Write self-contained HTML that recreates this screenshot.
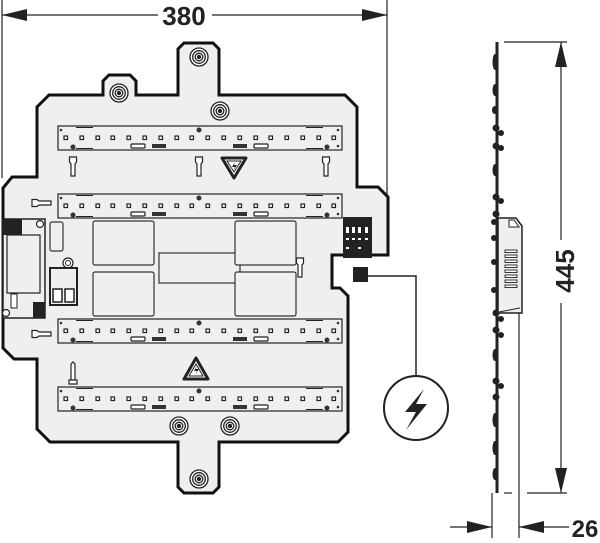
<!DOCTYPE html>
<html><head><meta charset="utf-8"><style>
html,body{margin:0;padding:0;background:#fff;}
svg{display:block;}
text{font-family:"Liberation Sans",sans-serif;font-weight:bold;}
</style></head><body>
<svg width="600" height="543" viewBox="0 0 600 543" xmlns="http://www.w3.org/2000/svg">
<defs>
<g id="strip">
  <rect x="58" y="0" width="284" height="24" fill="#efefef" stroke="#222" stroke-width="1.2"/>
  <g fill="#fff" stroke="#222" stroke-width="1.2">
    <rect x="64" y="10" width="3.5" height="3.5"/><rect x="80" y="10" width="3.5" height="3.5"/><rect x="96" y="10" width="3.5" height="3.5"/><rect x="111" y="10" width="3.5" height="3.5"/><rect x="127" y="10" width="3.5" height="3.5"/><rect x="143" y="10" width="3.5" height="3.5"/><rect x="159" y="10" width="3.5" height="3.5"/><rect x="175" y="10" width="3.5" height="3.5"/><rect x="190" y="10" width="3.5" height="3.5"/><rect x="206" y="10" width="3.5" height="3.5"/><rect x="222" y="10" width="3.5" height="3.5"/><rect x="238" y="10" width="3.5" height="3.5"/><rect x="254" y="10" width="3.5" height="3.5"/><rect x="269" y="10" width="3.5" height="3.5"/><rect x="285" y="10" width="3.5" height="3.5"/><rect x="301" y="10" width="3.5" height="3.5"/><rect x="317" y="10" width="3.5" height="3.5"/><rect x="332" y="10" width="3.5" height="3.5"/>
    <rect x="131" y="18" width="14" height="4" rx="1"/><rect x="254" y="18" width="14" height="4" rx="1"/>
  </g>
  <rect x="152" y="18" width="14" height="4" fill="#333"/><rect x="233" y="18" width="14" height="4" fill="#333"/>
  <g fill="#333"><circle cx="61" cy="4" r="1.3"/><circle cx="338" cy="4" r="1.3"/><circle cx="338" cy="20" r="1.3"/><circle cx="199" cy="4" r="2.5"/><circle cx="73" cy="21" r="2.5"/><circle cx="327" cy="21" r="2.5"/></g>
  <g stroke="#222" stroke-width="1" fill="none"><line x1="76" y1="1.5" x2="93" y2="1.5"/><line x1="306" y1="1.5" x2="323" y2="1.5"/><line x1="76" y1="22.5" x2="93" y2="22.5"/><line x1="306" y1="22.5" x2="323" y2="22.5"/></g>
</g>
<g id="screw"><circle r="9" fill="#fff" stroke="#222" stroke-width="1.3"/><circle r="6.3" fill="none" stroke="#222" stroke-width="1.3"/><circle r="3.8" fill="none" stroke="#222" stroke-width="1.3"/><circle r="2.2" fill="#222"/></g>
<g id="pinv"><path d="M-3.5,0 h7 v5 l-1.5,2 v12 h-4 v-12 l-1.5,-2 z" fill="#fff" stroke="#222" stroke-width="1.2"/></g>
<g id="pinh"><path d="M0,-3.5 v7 h5 l2,-1.5 h12 v-4 h-12 l-2,-1.5 z" fill="#fff" stroke="#222" stroke-width="1.2"/></g>
</defs>

<!-- 380 dimension -->
<g stroke="#222" stroke-width="1.2" fill="none">
<line x1="2" y1="0" x2="2" y2="178"/><line x1="387" y1="0" x2="387" y2="200"/>
<line x1="2" y1="15" x2="158" y2="15"/><line x1="212" y1="15" x2="387" y2="15"/>
</g>
<path d="M2,15 l25,-6 v12 z M387,15 l-25,-6 v12 z" fill="#222"/>
<text x="184" y="25" font-size="26" text-anchor="middle" fill="#222">380</text>

<!-- plate outline -->
<path d="M184,43 L213,43 L219,49 L219,95 L345,95 L357,107 L357,187 L378,187 L388,197 L388,255 L332,255 L332,288 L340,288 L348,296 L348,432 L338,442 L219,442 L219,487 L213,493 L184,493 L178,487 L178,442 L50,442 L37,429 L37,359 L14,359 L3,348 L3,188 L12,177 L37,177 L37,107 L49,95 L103,95 L103,81 L109,75 L130,75 L136,81 L136,95 L178,95 L178,49 Z" fill="#efefef" stroke="#111" stroke-width="3" stroke-linejoin="miter"/>

<!-- strips -->
<use href="#strip" y="126"/>
<use href="#strip" y="194"/>
<use href="#strip" y="319"/>
<use href="#strip" y="387"/>

<!-- screws -->
<use href="#screw" x="199" y="57"/>
<use href="#screw" x="119" y="93"/>
<use href="#screw" x="220" y="111"/>
<use href="#screw" x="179" y="426"/>
<use href="#screw" x="230" y="426"/>
<use href="#screw" x="199" y="479"/>

<!-- pins -->
<use href="#pinv" x="73" y="157"/>
<use href="#pinv" x="199" y="157"/>
<use href="#pinv" x="326" y="157"/>
<use href="#pinv" x="300" y="258"/>
<use href="#pinh" x="32" y="203"/>
<use href="#pinh" x="32" y="334"/>
<path d="M71,380 v-16 l2,-2 l2,2 v16 z M69,380 h8 v4 h-8 z" fill="#fff" stroke="#222" stroke-width="1.2"/>

<!-- warning signs -->
<path d="M222,158 h24 l-12,20 z" fill="#fff" stroke="#222" stroke-width="3" stroke-linejoin="round"/>
<path d="M227,161 h14 l-7,11 z" fill="none" stroke="#222" stroke-width="1"/>
<path d="M235,162 l-3,5 h3 l-2,4 l4,-6 h-3 z" fill="#222"/>
<path d="M196,358 l12,21 h-24 z" fill="#fff" stroke="#222" stroke-width="3" stroke-linejoin="round"/>
<path d="M196,364 l7,12 h-14 z" fill="none" stroke="#222" stroke-width="1"/>
<path d="M197,366 l-3,5 h3 l-2,4 l4,-6 h-3 z" fill="#222"/>

<!-- pads -->
<g fill="#efefef" stroke="#333" stroke-width="1.2">
<rect x="93" y="221" width="61" height="44" rx="2"/>
<rect x="93" y="272" width="61" height="44" rx="2"/>
<rect x="159" y="253" width="81" height="30"/>
<rect x="235" y="221" width="61" height="44" rx="2"/>
<rect x="235" y="272" width="61" height="44" rx="2"/>
<rect x="50" y="222" width="13" height="29" rx="2"/>
</g>

<!-- left module -->
<rect x="3" y="219" width="42" height="99" fill="#efefef" stroke="#222" stroke-width="1.5"/>
<rect x="7" y="235" width="33" height="58" fill="#efefef" stroke="#222" stroke-width="1.2"/>
<rect x="3" y="219" width="19" height="16" fill="#222"/>
<rect x="11" y="294" width="6" height="14" fill="#fff" stroke="#222" stroke-width="1"/>
<rect x="33" y="302" width="12" height="16" fill="#222"/>
<circle cx="40" cy="224" r="3.5" fill="#fff" stroke="#222" stroke-width="1.2"/>
<circle cx="6" cy="313" r="3.5" fill="#fff" stroke="#222" stroke-width="1.2"/>

<!-- connector -->
<circle cx="68" cy="263" r="5" fill="#fff" stroke="#222" stroke-width="1.2"/>
<circle cx="68" cy="263" r="2.5" fill="none" stroke="#222" stroke-width="1"/>
<rect x="50" y="268" width="27" height="37" fill="#efefef" stroke="#222" stroke-width="2"/>
<rect x="53" y="289" width="9" height="13" fill="#fff" stroke="#222" stroke-width="1.5"/>
<rect x="65" y="289" width="9" height="13" fill="#fff" stroke="#222" stroke-width="1.5"/>

<!-- right terminal block -->
<rect x="343" y="217" width="29" height="41" fill="#222"/>
<g fill="#fff"><rect x="346" y="227" width="3" height="6"/><rect x="352" y="227" width="3" height="6"/><rect x="358" y="227" width="3" height="6"/><rect x="365" y="227" width="3" height="6"/><rect x="346" y="238" width="3" height="2"/><rect x="352" y="238" width="3" height="2"/><rect x="358" y="238" width="3" height="2"/><rect x="365" y="238" width="3" height="2"/><rect x="346" y="247" width="3" height="2"/><rect x="358" y="247" width="3" height="2"/></g>

<!-- power feed -->
<rect x="353" y="267" width="15" height="15" fill="#222"/>
<polyline points="368,276 416,276 416,376" fill="none" stroke="#222" stroke-width="1.5"/>
<circle cx="416" cy="408" r="32" fill="#fff" stroke="#222" stroke-width="2"/>
<path d="M424,389 L405,412 L416,412 L406,430 L427,404 L416,404 Z" fill="#222"/>

<!-- side view -->
<line x1="497" y1="42" x2="497" y2="493" stroke="#222" stroke-width="3"/>
<g fill="#222">
<ellipse cx="495" cy="62" rx="2.5" ry="8"/><ellipse cx="495" cy="90" rx="2.5" ry="6"/><ellipse cx="495" cy="110" rx="3" ry="4"/>
<circle cx="496" cy="128" r="3.5"/><circle cx="501" cy="133" r="3"/><circle cx="496" cy="146" r="3.5"/><circle cx="501" cy="148" r="3"/>
<ellipse cx="495" cy="170" rx="2.5" ry="6"/><circle cx="496" cy="197" r="3.5"/><circle cx="501" cy="201" r="3"/><circle cx="496" cy="214" r="3.5"/>
<circle cx="494" cy="222" r="3"/><circle cx="494" cy="238" r="3"/><circle cx="494" cy="262" r="3"/><circle cx="494" cy="290" r="3"/>
<circle cx="496" cy="313" r="3.5"/><circle cx="501" cy="319" r="3"/><circle cx="496" cy="330" r="3.5"/><circle cx="501" cy="335" r="3"/>
<ellipse cx="495" cy="355" rx="2.5" ry="6"/><circle cx="496" cy="381" r="3.5"/><circle cx="501" cy="386" r="3"/><circle cx="496" cy="397" r="3.5"/>
<ellipse cx="495" cy="420" rx="2.5" ry="7"/><ellipse cx="495" cy="448" rx="2.5" ry="7"/><ellipse cx="495" cy="474" rx="2.5" ry="6"/>
</g>
<path d="M498,218 L516,218 L522,226 L522,313 L498,313 Z" fill="#efefef" stroke="#222" stroke-width="1.5"/>
<path d="M509,220 L514,220 L519,227 L509,227 Z" fill="#fff" stroke="#222" stroke-width="1"/>
<g fill="#fff" stroke="#222" stroke-width="0.9">
<rect x="505" y="250" width="12" height="2.5"/><rect x="505" y="255" width="12" height="2.5"/><rect x="505" y="260" width="12" height="2.5"/><rect x="505" y="265" width="12" height="2.5"/><rect x="505" y="270" width="12" height="2.5"/><rect x="505" y="275" width="12" height="2.5"/><rect x="505" y="280" width="12" height="2.5"/><rect x="505" y="285" width="12" height="2.5"/>
</g>
<line x1="499" y1="312" x2="520" y2="308" stroke="#222" stroke-width="1"/>

<!-- 445 dimension -->
<g stroke="#222" stroke-width="1.2" fill="none">
<line x1="504" y1="42" x2="567" y2="42"/>
<line x1="504" y1="493" x2="512" y2="493"/><line x1="527" y1="493" x2="567" y2="493"/>
<line x1="561" y1="42" x2="561" y2="240"/><line x1="561" y1="303" x2="561" y2="493"/>
<line x1="492" y1="493" x2="492" y2="538"/><line x1="519" y1="313" x2="519" y2="538"/>
<line x1="450" y1="527" x2="492" y2="527"/><line x1="519" y1="527" x2="569" y2="527"/>
</g>
<path d="M561,42 l-6,25 h12 z M561,493 l-6,-25 h12 z" fill="#222"/>
<path d="M492,527 l-25,-6 v12 z M519,527 l25,-6 v12 z" fill="#222"/>
<text x="0" y="0" font-size="26" text-anchor="middle" fill="#222" transform="translate(574 271) rotate(-90)">445</text>
<text x="585" y="537" font-size="24" text-anchor="middle" fill="#222">26</text>
</svg>
</body></html>
